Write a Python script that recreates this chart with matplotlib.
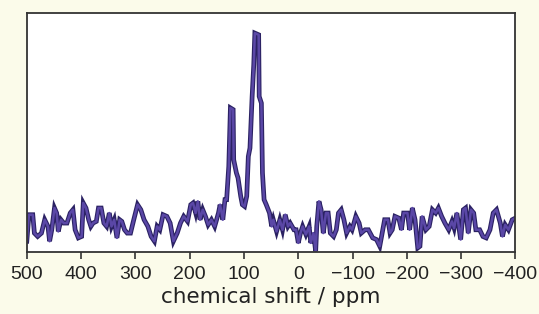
import numpy as np
import matplotlib.pyplot as plt

# spectrum (ppm, relative intensity)
shift = [500, 496, 489, 486, 480, 473, 467, 461, 458, 454, 449, 445, 442, 437, 432, 426,
         420, 415, 411, 405, 399, 396, 391, 386, 382, 378, 372, 368, 363, 358, 353, 348,
         344, 339, 334, 329, 325, 320, 315, 309, 303, 296, 290, 284, 277, 271, 265, 260,
         255, 249, 242, 236, 230, 223, 217, 211, 204, 198, 194, 189, 185, 181, 176, 171,
         166, 160, 154, 147, 144, 139, 135, 132, 128, 125, 120, 119, 114, 111, 106, 103,
         99, 95, 92, 89, 85, 82, 80, 73, 72, 68, 66, 63, 59, 53, 49, 46,
         40, 34, 29, 24, 19, 15, 8, 4, 0, -4, -8, -14, -20, -23, -28, -32,
         -34, -38, -42, -46, -51, -55, -59, -65, -70, -74, -79, -84, -89, -95, -99, -106,
         -112, -116, -123, -129, -137, -144, -150, -154, -159, -165, -169, -173, -178, -185, -190, -194,
         -201, -205, -210, -215, -220, -224, -228, -235, -241, -247, -253, -258, -264, -270, -277, -283,
         -287, -292, -299, -304, -308, -313, -318, -323, -327, -334, -340, -346, -353, -359, -365, -372,
         -376, -381, -387, -394, -400]
intensity = [4.5, 15.6, 15.6, 7.9, 6.5, 7.9, 13.5, 10.7, 4.5, 9.3, 18.4, 16.3, 8.6, 13.5, 12.1, 12.1,
             16.3, 17.7, 9.3, 5.9, 6.5, 20.5, 18.4, 13.5, 10.7, 12.1, 12.8, 18.4, 18.4, 12.1, 10.7, 16.3,
             10.7, 13.5, 5.9, 13.5, 12.8, 9.3, 7.9, 7.9, 13.5, 19.8, 17.7, 13.5, 10.7, 6.5, 4.5, 10.7,
             9.3, 15.6, 14.9, 12.1, 4.5, 7.9, 12.1, 14.9, 12.8, 19.8, 20.5, 16.3, 21.2, 13.5, 17.7, 14.9,
             11.4, 13.5, 10.7, 16.3, 19.8, 13.5, 21.9, 21.9, 35.8, 60.3, 59.6, 38.6, 33.1, 31.0, 23.3, 19.8,
             19.1, 23.3, 40.0, 43.5, 65.1, 78.4, 91.6, 90.9, 65.1, 62.3, 33.1, 21.9, 19.8, 16.3, 10.7, 13.5,
             8.6, 13.5, 9.3, 15.6, 10.7, 12.1, 9.3, 9.3, 3.8, 7.9, 10.7, 7.3, 10.7, 3.8, 7.9, 0.3,
             10.7, 21.2, 17.7, 7.9, 16.3, 16.3, 7.9, 6.5, 9.3, 16.3, 17.7, 13.5, 7.9, 10.7, 9.3, 14.9,
             12.1, 7.9, 9.3, 9.3, 5.9, 5.2, 2.4, 7.3, 13.5, 13.5, 7.9, 9.3, 14.9, 14.2, 9.3, 16.3,
             16.3, 9.3, 18.4, 13.5, 1.7, 2.4, 14.9, 9.3, 10.7, 17.7, 16.3, 18.4, 14.9, 12.1, 9.3, 12.8,
             10.0, 16.3, 5.2, 17.7, 18.4, 7.9, 17.7, 16.3, 9.3, 9.3, 6.5, 5.9, 9.3, 16.3, 17.7, 12.1,
             6.5, 11.4, 9.3, 13.5, 14.2]
ticks = [500, 400, 300, 200, 100, 0, -100, -200, -300, -400]

fig = plt.figure(figsize=(5.39, 3.14), dpi=100, facecolor="#fbfbea")
ax = fig.add_axes([0.0497, 0.1975, 0.9067, 0.761])
ax.set_facecolor("white")

# dark edge under a purple trace
ax.plot(shift, intensity, color="#2b2263", lw=3.4, solid_joinstyle="miter")
ax.plot(shift, intensity, color="#5a47a6", lw=1.8)

ax.set_xlim(500, -400)
ax.set_ylim(0, 100)
ax.set_xticks(ticks)
ax.set_xticklabels([str(t).replace("-", "\u2212") for t in ticks],
                   fontsize=14, family="Liberation Sans", color="#222222")
ax.set_yticks([])
ax.tick_params(axis="x", direction="out", length=5, width=1.2, pad=5, color="#333333")
for s in ax.spines.values():
    s.set_linewidth(1.3)
    s.set_color("#333333")

ax.set_xlabel("chemical shift / ppm", fontsize=15.5, family="DejaVu Sans",
              color="#222222", labelpad=3)

fig.savefig("out.png", dpi=100, facecolor=fig.get_facecolor())
